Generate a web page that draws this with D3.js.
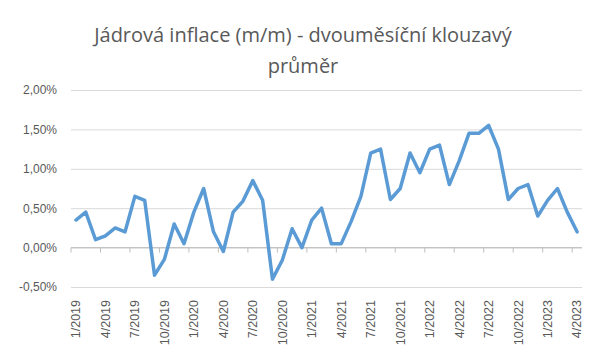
<!DOCTYPE html>
<html>
<head>
<meta charset="utf-8">
<script src="https://cdn.jsdelivr.net/npm/d3@7"></script>
<style>
  body { margin: 0; background: #fff; }
  svg { display: block; font-family: "Open Sans", "Noto Sans", sans-serif; }
</style>
</head>
<body>
<div id="chart"></div>
<script>
// monthly categories 1/2019 .. 4/2023
let months = [];
for (let y = 2019; y <= 2023; y++) {
    for (let m = 1; m <= 12; m++) {
        if (y == 2023 && m > 4) break;
        months.push(m + '/' + y);
    }
}

// core inflation m/m, two-month moving average (%)
let values = [
    0.35, 0.45, 0.10, 0.15, 0.25, 0.20, 0.65, 0.60, -0.35, -0.15, 0.30, 0.05,   // 2019
    0.45, 0.75, 0.20, -0.05, 0.45, 0.59, 0.85, 0.60, -0.40, -0.16, 0.24, 0.00,  // 2020
    0.35, 0.50, 0.05, 0.05, 0.33, 0.65, 1.20, 1.25, 0.61, 0.75, 1.20, 0.95,     // 2021
    1.25, 1.30, 0.80, 1.10, 1.45, 1.45, 1.55, 1.25, 0.61, 0.75, 0.80, 0.40,     // 2022
    0.60, 0.75, 0.45, 0.20                                                      // 2023
];

let yTicks = [-0.5, 0, 0.5, 1, 1.5, 2];
let titleLines = ['Jádrová inflace (m/m) - dvouměsíční klouzavý', 'průměr'];

let width = 600, height = 360;
let plot = { left: 71, right: 582, top: 90, bottom: 287 };

let svg = d3.select('#chart').append('svg')
    .attr('width', width)
    .attr('height', height);

let x = d3.scaleBand()
    .domain(months)
    .range([plot.left, plot.right]);

let y = d3.scaleLinear()
    .domain([-0.5, 2])
    .range([plot.bottom, plot.top]);

// title
svg.append('g').selectAll('text')
    .data(titleLines).enter()
    .append('text')
    .attr('x', 303)
    .attr('y', function(d, i) { return 42 + i * 31; })
    .attr('text-anchor', 'middle')
    .attr('fill', '#595959')
    .style('font-size', '20px')
    .text(function(d) { return d; });

// y axis + gridlines
let fmt = function(d) { return d3.format('.2f')(d).replace('.', ',').replace('−', '-') + '%'; };
let axisY = d3.axisLeft(y)
    .tickValues(yTicks)
    .tickSize(-(plot.right - plot.left))
    .tickPadding(14)
    .tickFormat(fmt);

let gy = svg.append('g')
    .attr('transform', 'translate(' + plot.left + ',0)')
    .call(axisY);
gy.select('.domain').remove();
gy.selectAll('.tick line').attr('stroke', '#d9d9d9').attr('stroke-width', 1);
gy.selectAll('.tick text').attr('fill', '#595959').style('font-size', '12px');

// zero axis line with tick marks
let labelMonths = months.filter(function(d, i) { return i % 3 == 0; });
let gx = svg.append('g').attr('class', 'x-axis');
gx.append('line')
    .attr('x1', plot.left).attr('x2', plot.right)
    .attr('y1', y(0)).attr('y2', y(0))
    .attr('stroke', '#bfbfbf');
gx.selectAll('line.tick-mark')
    .data(labelMonths).enter()
    .append('line')
    .attr('class', 'tick-mark')
    .attr('x1', function(d) { return x(d); })
    .attr('x2', function(d) { return x(d); })
    .attr('y1', y(0))
    .attr('y2', y(0) + 5)
    .attr('stroke', '#bfbfbf');

// x labels (bottom, rotated)
let axisX = d3.axisBottom(x)
    .tickValues(labelMonths)
    .tickSize(0)
    .tickPadding(0);
let gxl = svg.append('g')
    .attr('transform', 'translate(0,' + (plot.bottom + 13) + ')')
    .call(axisX);
gxl.select('.domain').remove();
gxl.selectAll('.tick text')
    .attr('fill', '#595959')
    .style('font-size', '12.5px')
    .attr('text-anchor', 'end')
    .attr('dy', '0.35em')
    .attr('transform', 'rotate(-90)');

// line
let line = d3.line()
    .x(function(d, i) { return x(months[i]) + x.bandwidth() / 2; })
    .y(function(d) { return y(d); });

svg.append('path')
    .datum(values)
    .attr('fill', 'none')
    .attr('stroke', '#5b9bd5')
    .attr('stroke-width', 3.5)
    .attr('stroke-linejoin', 'round')
    .attr('stroke-linecap', 'round')
    .attr('d', line);
</script>
</body>
</html>
